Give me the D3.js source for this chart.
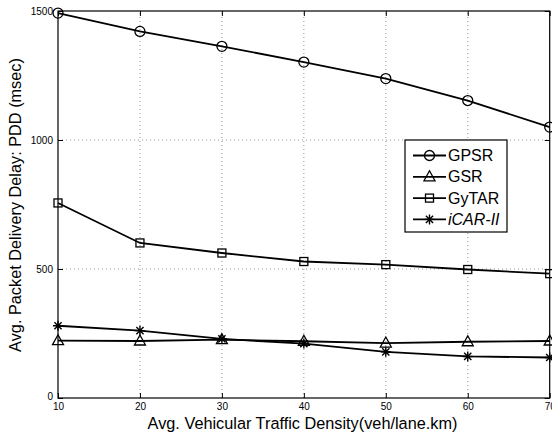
<html>
<head>
<script src="https://d3js.org/d3.v7.min.js"></script>
<style>
body { margin:0; background:#fff; }
text { font-family: "Liberation Sans", Arial, sans-serif; }
</style>
</head>
<body>
<svg width="552" height="435"></svg>
<script>
// density values (veh/lane.km)
var density = [10, 20, 30, 40, 50, 60, 70];
var gpsr  = [1492, 1421, 1363, 1302, 1238, 1153, 1050];
var gsr   = [222, 221, 226, 220, 213, 218, 221];
var gytar = [756, 601, 562, 529, 517, 498, 482];
var icar  = [280, 261, 229, 211, 179, 161, 157];
var xTicks = [10, 20, 30, 40, 50, 60, 70];
var yTicks = [0, 500, 1000, 1500];

var series = [
	{name:"GPSR", values:gpsr, marker:"circle"},
	{name:"GSR", values:gsr, marker:"triangle"},
	{name:"GyTAR", values:gytar, marker:"square"},
	{name:"iCAR-II", values:icar, marker:"star", italic:true}
];

var width = 552, height = 435;
var margin = {top: 11, right: 3, bottom: 37, left: 58};
var svg = d3.select("svg");

var x = d3.scaleLinear().domain([10, 70]).range([margin.left, width - margin.right + 0.7]);
var y = d3.scaleLinear().domain([0, 1500]).range([height - margin.bottom, margin.top]);

// grid
var grid = svg.append("g");
grid.selectAll(".gx").data(xTicks.slice(1, -1)).enter().append("line")
	.attr("x1", d => x(d)).attr("x2", d => x(d))
	.attr("y1", y(0)).attr("y2", y(1500))
	.attr("stroke", "#777").attr("stroke-width", 0.8).attr("stroke-dasharray", "1,3");
grid.selectAll(".gy").data(yTicks.slice(1, -1)).enter().append("line")
	.attr("x1", x(10)).attr("x2", x(70))
	.attr("y1", d => y(d)).attr("y2", d => y(d))
	.attr("stroke", "#777").attr("stroke-width", 0.8).attr("stroke-dasharray", "1,3");

// axes (inward ticks on all four sides)
svg.append("g").attr("transform", "translate(0," + y(0) + ")")
	.call(d3.axisBottom(x).tickValues(xTicks).tickFormat(d3.format("d")).tickSizeInner(-5).tickSizeOuter(0).tickPadding(5))
	.call(g => g.select(".domain").remove())
	.call(g => g.selectAll("text").attr("font-size", "10px").attr("font-family", "Liberation Sans, Arial"));
svg.append("g").attr("transform", "translate(0," + y(1500) + ")")
	.call(d3.axisTop(x).tickValues(xTicks).tickSizeInner(-5).tickSizeOuter(0).tickFormat(""))
	.call(g => g.select(".domain").remove());
svg.append("g").attr("transform", "translate(" + x(10) + ",0)")
	.call(d3.axisLeft(y).tickValues(yTicks).tickFormat(d3.format("d")).tickSizeInner(-5).tickSizeOuter(0).tickPadding(5))
	.call(g => g.select(".domain").remove())
	.call(g => g.selectAll("text").attr("font-size", "10px").attr("font-family", "Liberation Sans, Arial"))
	.call(g => g.selectAll(".tick").filter(d => d == 0).select("text").attr("y", -2));
svg.append("g").attr("transform", "translate(" + x(70) + ",0)")
	.call(d3.axisRight(y).tickValues(yTicks).tickSizeInner(-5).tickSizeOuter(0).tickFormat(""))
	.call(g => g.select(".domain").remove());

// frame
svg.append("rect")
	.attr("x", x(10)).attr("y", y(1500))
	.attr("width", x(70) - x(10)).attr("height", y(0) - y(1500))
	.attr("fill", "none").attr("stroke", "#000").attr("stroke-width", 1.2);

var line = d3.line().x((d, i) => x(density[i])).y(d => y(d));

function drawMarker(g, type) {
	if (type == "circle") {
		g.append("circle").attr("r", 5).attr("fill", "none").attr("stroke", "#000").attr("stroke-width", 1.3);
	} else if (type == "triangle") {
		g.append("path").attr("d", "M0,-6L5.5,4L-5.5,4Z").attr("fill", "none").attr("stroke", "#000").attr("stroke-width", 1.3);
	} else if (type == "square") {
		g.append("rect").attr("x", -4).attr("y", -4).attr("width", 8).attr("height", 8)
			.attr("fill", "none").attr("stroke", "#000").attr("stroke-width", 1.3);
	} else {
		g.append("path").attr("d", "M0,-5V5M-5,0H5M-3.6,-3.6L3.6,3.6M-3.6,3.6L3.6,-3.6")
			.attr("stroke", "#000").attr("stroke-width", 1.4);
	}
}

series.forEach(function(s) {
	svg.append("path").datum(s.values)
		.attr("d", line).attr("fill", "none").attr("stroke", "#000").attr("stroke-width", 1.8);
	s.values.forEach(function(v, i) {
		var g = svg.append("g").attr("transform", "translate(" + x(density[i]) + "," + y(v) + ")");
		drawMarker(g, s.marker);
	});
});

// legend
var legend = svg.append("g").attr("transform", "translate(405,140)");
legend.append("rect").attr("width", 102).attr("height", 92)
	.attr("fill", "#fff").attr("stroke", "#000").attr("stroke-width", 1.2);
series.forEach(function(s, i) {
	var ly = 15.5 + i * 21.3;
	legend.append("line").attr("x1", 8).attr("x2", 41).attr("y1", ly).attr("y2", ly)
		.attr("stroke", "#000").attr("stroke-width", 1.8);
	var g = legend.append("g").attr("transform", "translate(24.5," + ly + ")");
	drawMarker(g, s.marker);
	legend.append("text").attr("x", 43).attr("y", ly + 5.5)
		.attr("font-size", "16px")
		.attr("font-style", s.italic ? "italic" : "normal")
		.text(s.name);
});

// axis labels
svg.append("text").attr("x", 302.5).attr("y", 429)
	.attr("text-anchor", "middle").attr("font-size", "16.3px")
	.text("Avg. Vehicular Traffic Density(veh/lane.km)");
svg.append("text").attr("transform", "translate(21,205) rotate(-90)")
	.attr("text-anchor", "middle").attr("font-size", "16.3px")
	.text("Avg. Packet Delivery Delay: PDD (msec)");
</script>
</body>
</html>
